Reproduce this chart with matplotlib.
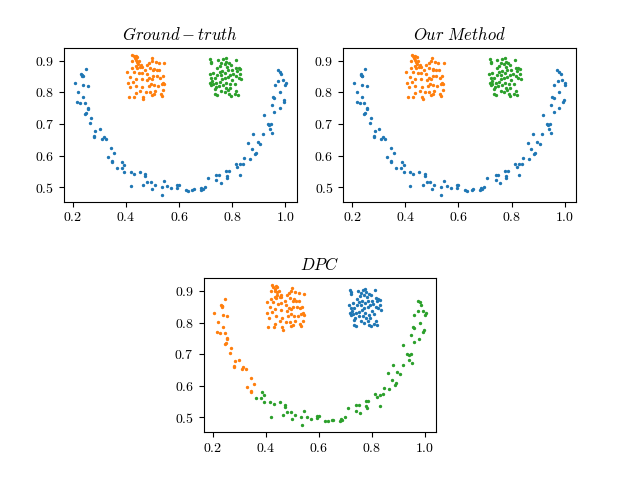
import numpy as np
import matplotlib
matplotlib.use("Agg")
import matplotlib.pyplot as plt
from matplotlib.gridspec import GridSpec

plt.rcParams['font.family'] = 'serif'
plt.rcParams['font.serif'] = ['cmr10']
plt.rcParams['mathtext.fontset'] = 'cm'
plt.rcParams['axes.formatter.use_mathtext'] = True

# smile arc, left end (DPC puts these with the left square)
arc_left_x = [0.206, 0.248, 0.232, 0.234, 0.235, 0.236, 0.238, 0.255, 0.219, 0.238,
              0.216, 0.228, 0.246, 0.255, 0.255, 0.249, 0.246, 0.269, 0.265, 0.300,
              0.284, 0.281, 0.281, 0.315, 0.325, 0.309, 0.345, 0.356, 0.331, 0.346,
              0.346]
arc_left_y = [0.831, 0.876, 0.858, 0.855, 0.851, 0.853, 0.824, 0.821, 0.802, 0.786,
              0.771, 0.768, 0.768, 0.752, 0.749, 0.736, 0.732, 0.720, 0.704, 0.683,
              0.678, 0.662, 0.659, 0.659, 0.653, 0.653, 0.625, 0.607, 0.596, 0.584,
              0.580]

# rest of the arc
arc_right_x = [0.365, 0.386, 0.384, 0.394, 0.394, 0.418, 0.430, 0.453, 0.473, 0.473,
               0.419, 0.465, 0.480, 0.494, 0.499, 0.509, 0.534, 0.536, 0.544, 0.556,
               0.571, 0.593, 0.593, 0.599, 0.625, 0.634, 0.650, 0.654, 0.681, 0.684,
               0.688, 0.698, 0.709, 0.740, 0.750, 0.740, 0.756, 0.776, 0.786, 0.779,
               0.780, 0.813, 0.830, 0.819, 0.840, 0.829, 0.844, 0.861, 0.866, 0.874,
               0.880, 0.886, 0.890, 0.896, 0.906, 0.916, 0.919, 0.934, 0.938, 0.941,
               0.946, 0.950, 0.954, 0.959, 0.949, 0.959, 0.978, 0.980, 0.960, 0.974,
               0.991, 0.994, 0.996, 0.973, 0.980, 0.985, 1.003, 1.000]
arc_right_y = [0.562, 0.581, 0.562, 0.570, 0.549, 0.548, 0.542, 0.549, 0.540, 0.534,
               0.503, 0.508, 0.517, 0.517, 0.495, 0.508, 0.500, 0.476, 0.519, 0.503,
               0.496, 0.506, 0.498, 0.505, 0.490, 0.489, 0.492, 0.493, 0.490, 0.496,
               0.493, 0.500, 0.530, 0.538, 0.538, 0.521, 0.513, 0.551, 0.551, 0.536,
               0.530, 0.574, 0.572, 0.565, 0.574, 0.537, 0.593, 0.640, 0.589, 0.620,
               0.667, 0.604, 0.608, 0.644, 0.638, 0.667, 0.729, 0.701, 0.697, 0.683,
               0.701, 0.672, 0.787, 0.784, 0.760, 0.739, 0.750, 0.800, 0.824, 0.837,
               0.839, 0.771, 0.777, 0.870, 0.866, 0.858, 0.830, 0.824]

# left square
sq_left_x = [0.424, 0.429, 0.438, 0.434, 0.443, 0.421, 0.436, 0.441, 0.449, 0.444,
             0.436, 0.440, 0.453, 0.459, 0.456, 0.499, 0.496, 0.488, 0.511, 0.524,
             0.544, 0.525, 0.538, 0.505, 0.490, 0.479, 0.471, 0.459, 0.448, 0.429,
             0.416, 0.403, 0.436, 0.425, 0.413, 0.438, 0.461, 0.480, 0.488, 0.496,
             0.503, 0.494, 0.485, 0.506, 0.516, 0.534, 0.539, 0.529, 0.521, 0.509,
             0.504, 0.490, 0.496, 0.475, 0.463, 0.454, 0.436, 0.430, 0.410, 0.540,
             0.531, 0.534, 0.465, 0.421, 0.478, 0.503, 0.459, 0.406, 0.515, 0.543]
sq_left_y = [0.919, 0.915, 0.916, 0.908, 0.913, 0.900, 0.902, 0.897, 0.900, 0.889,
             0.883, 0.879, 0.881, 0.881, 0.887, 0.911, 0.900, 0.895, 0.898, 0.895,
             0.893, 0.870, 0.852, 0.876, 0.879, 0.887, 0.870, 0.863, 0.861, 0.865,
             0.850, 0.866, 0.843, 0.834, 0.817, 0.821, 0.817, 0.839, 0.847, 0.844,
             0.852, 0.828, 0.821, 0.823, 0.851, 0.828, 0.831, 0.847, 0.821, 0.805,
             0.794, 0.802, 0.791, 0.803, 0.786, 0.805, 0.797, 0.787, 0.787, 0.807,
             0.796, 0.789, 0.778, 0.877, 0.858, 0.870, 0.842, 0.831, 0.870, 0.826]

# right square
sq_right_x = [0.718, 0.721, 0.721, 0.744, 0.754, 0.759, 0.765, 0.775, 0.778, 0.771,
              0.781, 0.788, 0.796, 0.813, 0.815, 0.824, 0.831, 0.819, 0.815, 0.831,
              0.834, 0.784, 0.774, 0.763, 0.753, 0.744, 0.734, 0.725, 0.718, 0.728,
              0.740, 0.753, 0.761, 0.771, 0.784, 0.793, 0.799, 0.809, 0.790, 0.775,
              0.765, 0.750, 0.738, 0.721, 0.734, 0.734, 0.741, 0.759, 0.771, 0.784,
              0.789, 0.796, 0.809, 0.815, 0.821, 0.793, 0.804, 0.746, 0.728, 0.715,
              0.759, 0.778, 0.799, 0.824, 0.721]
sq_right_y = [0.905, 0.898, 0.892, 0.877, 0.885, 0.895, 0.905, 0.908, 0.898, 0.889,
              0.881, 0.892, 0.887, 0.904, 0.879, 0.877, 0.874, 0.868, 0.852, 0.858,
              0.842, 0.870, 0.863, 0.868, 0.866, 0.856, 0.847, 0.837, 0.831, 0.828,
              0.831, 0.834, 0.842, 0.847, 0.849, 0.856, 0.839, 0.828, 0.826, 0.831,
              0.823, 0.821, 0.817, 0.824, 0.810, 0.794, 0.791, 0.805, 0.800, 0.807,
              0.794, 0.789, 0.796, 0.805, 0.792, 0.815, 0.860, 0.902, 0.863, 0.858,
              0.856, 0.815, 0.870, 0.847, 0.847]

arc_x = arc_left_x + arc_right_x
arc_y = arc_left_y + arc_right_y

fig = plt.figure(figsize=(6.4, 4.8), dpi=100)
gs = GridSpec(2, 4, figure=fig, left=0.1, right=0.9, top=0.9, bottom=0.1,
              wspace=0.5, hspace=0.5)
ax1 = fig.add_subplot(gs[0, 0:2])
ax2 = fig.add_subplot(gs[0, 2:4])
ax3 = fig.add_subplot(gs[1, 1:3])

ms = 2
for ax, title in [(ax1, r'$Ground-truth$'), (ax2, r'$Our\ Method$')]:
    ax.scatter(arc_x, arc_y, s=ms, color='C0')
    ax.scatter(sq_left_x, sq_left_y, s=ms, color='C1')
    ax.scatter(sq_right_x, sq_right_y, s=ms, color='C2')
    ax.set_title(title)

ax3.scatter(sq_right_x, sq_right_y, s=ms, color='C0')
ax3.scatter(arc_left_x + sq_left_x, arc_left_y + sq_left_y, s=ms, color='C1')
ax3.scatter(arc_right_x, arc_right_y, s=ms, color='C2')
ax3.set_title(r'$DPC$')

for ax in (ax1, ax2, ax3):
    ax.set_xticks([0.2, 0.4, 0.6, 0.8, 1.0])
    ax.set_yticks([0.5, 0.6, 0.7, 0.8, 0.9])

plt.savefig('out.png')
